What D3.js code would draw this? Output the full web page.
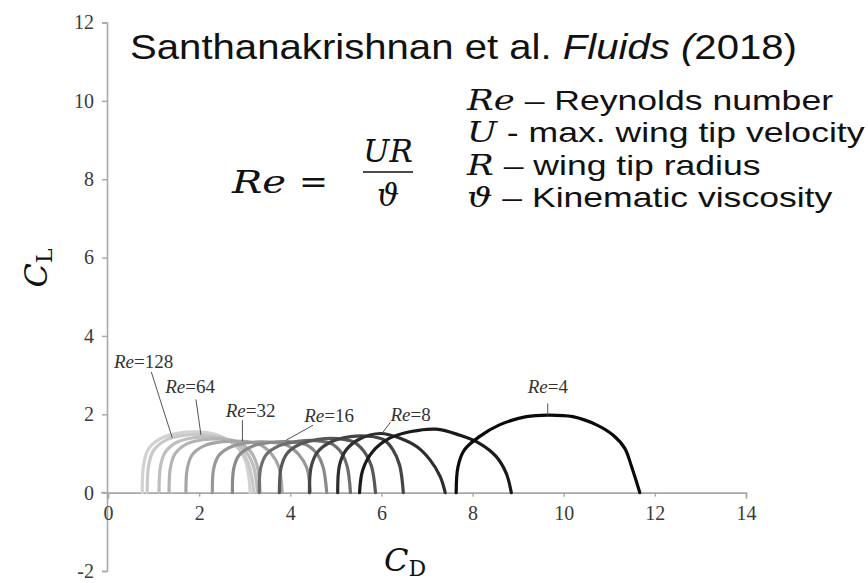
<!DOCTYPE html>
<html>
<head>
<meta charset="utf-8">
<script src="https://cdn.jsdelivr.net/npm/d3@7"></script>
<style>
  html, body { margin: 0; padding: 0; background: #fff; }
  svg { display: block; }
</style>
</head>
<body>
<svg id="chart" width="868" height="583"></svg>
<script>
// Lift vs drag polars, one arch per Reynolds number (CD, CL pairs)
const curve01 = [[0.75,0],[0.78,0.7],[0.88,1.1],[1.15,1.38],[1.55,1.52],[1.95,1.55],[2.4,1.47],[2.8,1.2],[3.02,0.8],[3.12,0]];
const curve02 = [[0.86,0],[0.89,0.68],[0.99,1.06],[1.25,1.33],[1.65,1.46],[2.05,1.48],[2.5,1.4],[2.85,1.15],[3.08,0.75],[3.2,0]];
const curve03 = [[1.12,0],[1.15,0.66],[1.25,1.02],[1.5,1.28],[1.88,1.4],[2.25,1.42],[2.65,1.34],[2.98,1.1],[3.18,0.72],[3.28,0]];
const curve04 = [[1.34,0],[1.37,0.64],[1.47,0.99],[1.72,1.24],[2.08,1.35],[2.45,1.37],[2.82,1.3],[3.12,1.06],[3.27,0.7],[3.34,0]];
const curve05 = [[1.71,0],[1.74,0.62],[1.85,0.97],[2.12,1.2],[2.52,1.3],[2.92,1.31],[3.3,1.24],[3.58,1.0],[3.75,0.65],[3.82,0]];
const curve06 = [[2.29,0],[2.32,0.62],[2.44,0.96],[2.72,1.18],[3.12,1.28],[3.52,1.29],[3.9,1.22],[4.18,0.98],[4.36,0.64],[4.44,0]];
const curve07 = [[2.73,0],[2.76,0.62],[2.88,0.96],[3.16,1.18],[3.56,1.28],[3.96,1.3],[4.34,1.23],[4.58,1.0],[4.72,0.65],[4.8,0]];
const curve08 = [[3.32,0],[3.35,0.63],[3.48,0.98],[3.76,1.2],[4.16,1.31],[4.55,1.33],[4.9,1.25],[5.12,1.02],[5.25,0.66],[5.32,0]];
const curve09 = [[3.76,0],[3.8,0.65],[3.93,1.0],[4.22,1.24],[4.62,1.36],[5.02,1.38],[5.38,1.3],[5.62,1.05],[5.78,0.68],[5.87,0]];
const curve10 = [[4.42,0],[4.46,0.67],[4.6,1.04],[4.9,1.3],[5.32,1.43],[5.72,1.44],[6.05,1.35],[6.25,1.1],[6.4,0.7],[6.48,0]];
const curve11 = [[5.04,0],[5.08,0.7],[5.22,1.08],[5.52,1.37],[5.98,1.51],[6.41,1.39],[6.78,1.17],[7.07,0.83],[7.29,0.41],[7.4,0]];
const curve12 = [[5.52,0],[5.59,0.58],[5.81,1.05],[6.18,1.39],[6.65,1.56],[7.2,1.62],[7.71,1.47],[8.15,1.26],[8.52,0.92],[8.74,0.49],[8.85,0]];
const curve13 = [[7.64,0],[7.68,0.66],[7.82,1.09],[8.15,1.43],[8.59,1.73],[9.18,1.94],[9.65,1.98],[10.2,1.94],[10.72,1.73],[11.08,1.47],[11.34,1.13],[11.49,0.66],[11.67,0]];

const curves = [curve01, curve02, curve03, curve04, curve05, curve06, curve07,
                curve08, curve09, curve10, curve11, curve12, curve13];
const curveShades = ["#d2d2d2", "#c9c9c9", "#bfbfbf", "#b4b4b4", "#a6a6a6", "#989898", "#8a8a8a",
                     "#6e6e6e", "#575757", "#444444", "#2e2e2e", "#1a1a1a", "#0a0a0a"];

// Reynolds-number callouts: label text, label anchor (CD, CL) and leader end (CD, CL)
const reValues = ["128", "64", "32", "16", "8", "4"];
const reLabelAt = [[0.78, 3.35], [1.8, 2.72], [3.13, 2.1], [4.85, 1.99], [6.64, 2.01], [9.65, 2.72]];
const reLeaderFrom = [[0.95, 3.08], [1.93, 2.38], [2.95, 1.85], [4.5, 1.72], [6.2, 1.8], [9.65, 2.28]];
const reLeaderTo = [[1.41, 1.4], [2.04, 1.47], [2.95, 1.31], [3.91, 1.34], [6.02, 1.52], [9.65, 1.98]];

const xTicks = [0, 2, 4, 6, 8, 10, 12, 14];
const yTicks = [-2, 0, 2, 4, 6, 8, 10, 12];

const legendVars = ["Re", "U", "R", "\u03D1"];
const legendTexts = [" \u2013 Reynolds number", " - max. wing tip velocity", " \u2013 wing tip radius", " \u2013 Kinematic viscosity"];

const svg = d3.select("#chart");

const x = d3.scaleLinear().domain([0, 14]).range([108, 746]);
const y = d3.scaleLinear().domain([-2, 12]).range([571, 22.5]);

const axisColor = "#a8a8a8";
const tickFont = "'Liberation Serif', 'Times New Roman', serif";
const tickFmt = d => String(d);   // plain hyphen for negatives

// y axis (left side)
const yAxis = svg.append("g")
  .attr("transform", `translate(${x(0) - 1},0)`)
  .call(d3.axisLeft(y).tickValues(yTicks).tickSize(5).tickSizeOuter(5).tickPadding(8).tickFormat(tickFmt));
yAxis.select(".domain").attr("stroke", axisColor).attr("stroke-width", 1.6);
yAxis.selectAll(".tick line").attr("stroke", axisColor).attr("stroke-width", 1.4);
yAxis.selectAll(".tick text")
  .attr("fill", "#3a3a3a").style("font-family", tickFont).style("font-size", "20px");

// x axis along CL = 0
const xAxis = svg.append("g")
  .attr("transform", `translate(0,${y(0)})`)
  .call(d3.axisBottom(x).tickValues(xTicks).tickSize(4).tickSizeOuter(6).tickPadding(9).tickFormat(tickFmt));
xAxis.select(".domain").attr("stroke", axisColor).attr("stroke-width", 1.6);
xAxis.selectAll(".tick line").attr("stroke", axisColor).attr("stroke-width", 1.4);
xAxis.selectAll(".tick text")
  .attr("fill", "#3a3a3a").style("font-family", tickFont).style("font-size", "20px");
// the zero line starts a little left of the vertical axis
svg.append("line")
  .attr("x1", x(0) - 7).attr("x2", x(0))
  .attr("y1", y(0)).attr("y2", y(0))
  .attr("stroke", axisColor).attr("stroke-width", 1.6);

// arches, light (high Re) first so the dark ones sit on top
const line = d3.line()
  .x(d => x(d[0]))
  .y(d => y(d[1]))
  .curve(d3.curveCatmullRom.alpha(0.5));

svg.append("g")
  .selectAll("path")
  .data(curves)
  .join("path")
  .attr("d", line)
  .attr("fill", "none")
  .attr("stroke", (d, i) => curveShades[i])
  .attr("stroke-width", 3.2)
  .attr("stroke-linejoin", "round")
  .attr("stroke-linecap", "round");

// leader lines
svg.append("g")
  .selectAll("line")
  .data(reValues)
  .join("line")
  .attr("x1", (d, i) => x(reLeaderFrom[i][0]))
  .attr("y1", (d, i) => y(reLeaderFrom[i][1]))
  .attr("x2", (d, i) => x(reLeaderTo[i][0]))
  .attr("y2", (d, i) => y(reLeaderTo[i][1]))
  .attr("stroke", "#555")
  .attr("stroke-width", 1);

// Re labels
const reLabels = svg.append("g")
  .selectAll("text")
  .data(reValues)
  .join("text")
  .attr("x", (d, i) => x(reLabelAt[i][0]))
  .attr("y", (d, i) => y(reLabelAt[i][1]))
  .attr("text-anchor", "middle")
  .attr("dominant-baseline", "central")
  .style("font-family", tickFont)
  .style("font-size", "19px")
  .attr("fill", "#333");
reLabels.append("tspan").style("font-style", "italic").text("Re");
reLabels.append("tspan").text(d => "=" + d);

// title
const title = svg.append("text")
  .attr("x", 130).attr("y", 59)
  .attr("textLength", 667).attr("lengthAdjust", "spacingAndGlyphs")
  .style("font-family", "'Liberation Sans', Arial, sans-serif")
  .style("font-size", "35px")
  .attr("fill", "#111");
title.append("tspan").text("Santhanakrishnan et al. ");
title.append("tspan").style("font-style", "italic").text("Fluids (");
title.append("tspan").text("2018)");

// Reynolds number definition
const mathFont = "'DejaVu Serif', 'Liberation Serif', serif";
svg.append("text")
  .attr("x", 232).attr("y", 193)
  .attr("textLength", 54).attr("lengthAdjust", "spacingAndGlyphs")
  .style("font-family", mathFont).style("font-style", "italic").style("font-size", "31px")
  .attr("fill", "#111")
  .text("Re");
svg.append("text")
  .attr("x", 299).attr("y", 193)
  .attr("textLength", 29).attr("lengthAdjust", "spacingAndGlyphs")
  .style("font-family", mathFont).style("font-size", "31px")
  .attr("fill", "#111")
  .text("=");
svg.append("text")
  .attr("x", 388).attr("y", 162)
  .attr("text-anchor", "middle")
  .style("font-family", mathFont).style("font-style", "italic").style("font-size", "31px")
  .attr("fill", "#111")
  .text("UR");
svg.append("line")
  .attr("x1", 363).attr("x2", 413).attr("y1", 172).attr("y2", 172)
  .attr("stroke", "#111").attr("stroke-width", 1.6);
svg.append("text")
  .attr("x", 388).attr("y", 206)
  .attr("text-anchor", "middle")
  .style("font-family", mathFont).style("font-style", "italic").style("font-size", "31px")
  .attr("fill", "#111")
  .text("\u03D1");

// symbol glossary, set a little wide
const glossary = svg.append("g")
  .attr("transform", "translate(467,0) scale(1.27,1)")
  .selectAll("text")
  .data(legendVars)
  .join("text")
  .attr("x", 0)
  .attr("y", (d, i) => 110 + i * 32.5)
  .attr("fill", "#111")
  .style("font-size", "28px");
glossary.append("tspan")
  .style("font-family", mathFont).style("font-style", "italic")
  .text(d => d);
glossary.append("tspan")
  .style("font-family", "'Liberation Sans', Arial, sans-serif")
  .text((d, i) => legendTexts[i]);

// axis titles
const cl = svg.append("text")
  .attr("transform", `translate(47,268) rotate(-90)`)
  .attr("text-anchor", "middle")
  .attr("fill", "#111")
  .style("font-family", mathFont).style("font-size", "32px");
cl.append("tspan").style("font-style", "italic").text("C");
cl.append("tspan").attr("dy", 5).style("font-size", "22px").text("L");

const cd = svg.append("text")
  .attr("x", 405).attr("y", 571)
  .attr("text-anchor", "middle")
  .attr("fill", "#111")
  .style("font-family", mathFont).style("font-size", "32px");
cd.append("tspan").style("font-style", "italic").text("C");
cd.append("tspan").attr("dy", 5).style("font-size", "22px").text("D");
</script>
</body>
</html>
